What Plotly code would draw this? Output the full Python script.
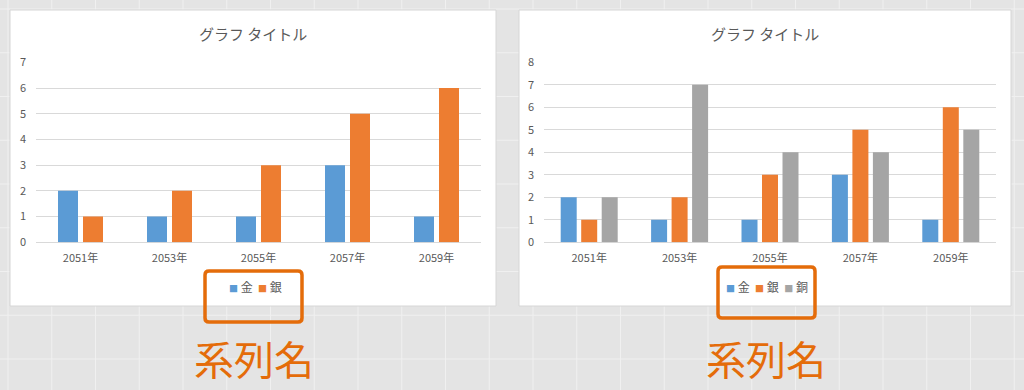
import plotly.graph_objects as go

# ---------------- data ----------------
categories = ["2051年", "2053年", "2055年", "2057年", "2059年"]
series_names = ["金", "銀", "銅"]
series_colors = ["#5B9BD5", "#ED7D31", "#A5A5A5"]

left_gold = [2, 1, 1, 3, 1]
left_silver = [1, 2, 3, 5, 6]

right_gold = [2, 1, 1, 3, 1]
right_silver = [1, 2, 3, 5, 6]
right_bronze = [2, 7, 4, 4, 5]

chart_title = "グラフ タイトル"
callout_text = "系列名"
left_yticks = list(range(0, 8))
right_yticks = list(range(0, 9))

# ---------------- helpers ----------------
W, H = 1024, 390
FONT = "Noto Sans CJK JP, Noto Sans, sans-serif"
TXT = "#595959"
ACCENT = "#E46C0A"


def px(x):
    return x / W


def py(y):
    return 1 - y / H


def rounded_path(x0, y0, x1, y1, r):
    pts = [
        ("M", [(x0 + r, y0)]),
        ("L", [(x1 - r, y0)]),
        ("Q", [(x1, y0), (x1, y0 + r)]),
        ("L", [(x1, y1 - r)]),
        ("Q", [(x1, y1), (x1 - r, y1)]),
        ("L", [(x0 + r, y1)]),
        ("Q", [(x0, y1), (x0, y1 - r)]),
        ("L", [(x0, y0 + r)]),
        ("Q", [(x0, y0), (x0 + r, y0)]),
    ]
    s = ""
    for cmd, ps in pts:
        s += cmd + " ".join(f"{px(a):.5f},{py(b):.5f}" for a, b in ps) + " "
    return s + "Z"


fig = go.Figure()


def add_group(values_list, names, colors, xa, ya, w, p):
    n = len(values_list)
    start = -(n * p - (p - w)) / 2
    for i, (vals, nm, col) in enumerate(zip(values_list, names, colors)):
        fig.add_trace(go.Bar(
            x=categories, y=vals, name=nm,
            marker=dict(color=col, line=dict(width=0)),
            width=w, offset=start + i * p,
            xaxis=xa, yaxis=ya, showlegend=False,
        ))


add_group([left_gold, left_silver], series_names[:2], series_colors[:2],
          "x", "y", 20 / 89, 25 / 89)
add_group([right_gold, right_silver, right_bronze], series_names, series_colors,
          "x2", "y2", 16 / 90.4, 20.5 / 90.4)

# ---------------- shapes (background) ----------------
shapes = []
grid_step = 43.75
gx = 8.0
while gx < W:
    shapes.append(dict(type="line", xref="paper", yref="paper", x0=px(gx), x1=px(gx),
                       y0=0, y1=1, line=dict(color="#f0f0f0", width=1), layer="below"))
    gx += grid_step
gy = 9.0
while gy < H:
    shapes.append(dict(type="line", xref="paper", yref="paper", x0=0, x1=1,
                       y0=py(gy), y1=py(gy), line=dict(color="#f0f0f0", width=1), layer="below"))
    gy += grid_step

for (x0, y0, x1, y1) in [(10, 10, 496, 306), (519, 10, 1011, 306)]:
    shapes.append(dict(type="rect", xref="paper", yref="paper",
                       x0=px(x0), x1=px(x1), y0=py(y1), y1=py(y0),
                       fillcolor="white", line=dict(color="#d6d6d6", width=1), layer="below"))

for (x0, y0, x1, y1) in [(205, 271, 302, 322), (718, 267, 815, 318)]:
    shapes.append(dict(type="path", xref="paper", yref="paper",
                       path=rounded_path(x0, y0, x1, y1, 4),
                       line=dict(color=ACCENT, width=3.5), layer="above"))

# ---------------- annotations ----------------
annotations = []
for cx in [253, 765]:
    annotations.append(dict(text=chart_title, x=px(cx), y=py(33), xref="paper", yref="paper",
                            showarrow=False, xanchor="center", yanchor="middle",
                            font=dict(family=FONT, size=15, color=TXT)))


def legend_text(names, colors):
    parts = []
    for nm, col in zip(names, colors):
        parts.append(f'<span style="color:{col};font-size:9px">■</span> {nm}')
    return "  ".join(parts)


annotations.append(dict(text=legend_text(series_names[:2], series_colors[:2]),
                        x=px(255), y=py(286), xref="paper", yref="paper", showarrow=False,
                        xanchor="center", yanchor="middle",
                        font=dict(family=FONT, size=12, color=TXT)))
annotations.append(dict(text=legend_text(series_names, series_colors),
                        x=px(767), y=py(286), xref="paper", yref="paper", showarrow=False,
                        xanchor="center", yanchor="middle",
                        font=dict(family=FONT, size=12, color=TXT)))

for cx in [253.5, 766]:
    annotations.append(dict(text=callout_text, x=px(cx), y=py(358), xref="paper", yref="paper",
                            showarrow=False, xanchor="center", yanchor="middle",
                            font=dict(family=FONT, size=40, color=ACCENT)))

# ---------------- axes ----------------
ydom = [py(242.3), py(62.3)]
xcommon = dict(type="category", showgrid=False, showline=False, zeroline=False, ticks="",
               tickfont=dict(family=FONT, size=11, color=TXT), ticklabelstandoff=8,
               range=[-0.5, 4.5], fixedrange=True, automargin=False)
ycommon = dict(showgrid=True, gridcolor="#d9d9d9", gridwidth=1, zeroline=True,
               zerolinecolor="#d9d9d9", zerolinewidth=1, showline=False, ticks="",
               tickfont=dict(family=FONT, size=11, color=TXT), ticklabelstandoff=9,
               domain=ydom, fixedrange=True, automargin=False)

fig.update_layout(
    template="none",
    width=W, height=H,
    autosize=False,
    margin=dict(l=0, r=0, t=0, b=0, pad=0, autoexpand=False),
    paper_bgcolor="#e4e4e4",
    plot_bgcolor="rgba(0,0,0,0)",
    barmode="overlay",
    showlegend=False,
    xaxis=dict(domain=[px(36), px(481)], anchor="y", **xcommon),
    yaxis=dict(anchor="x", range=[0, 7], tickvals=left_yticks, **ycommon),
    xaxis2=dict(domain=[px(544), px(996)], anchor="y2", **xcommon),
    yaxis2=dict(anchor="x2", range=[0, 8], tickvals=right_yticks, **ycommon),
    shapes=shapes,
    annotations=annotations,
)

fig.write_html(
    "out.html",
    config={"displayModeBar": False},
    post_script=(
        "document.documentElement.style.margin='0';"
        "document.body.style.margin='0';document.body.style.padding='0';"
        "document.body.style.overflow='hidden';"
        "var d=document.getElementById('{plot_id}');"
        "d.style.position='fixed';d.style.top='0px';d.style.left='0px';"
    ),
)
